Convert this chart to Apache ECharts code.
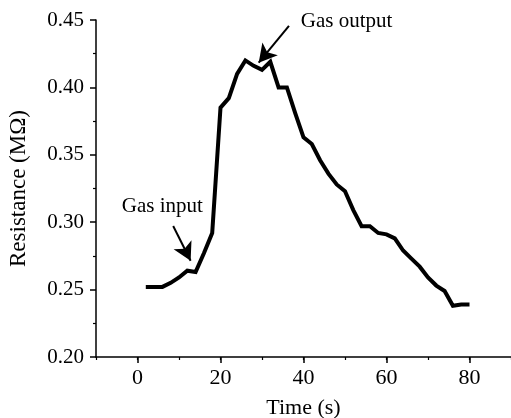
<!DOCTYPE html>
<html><head><meta charset="utf-8">
<script src="https://cdn.jsdelivr.net/npm/echarts@6/dist/echarts.min.js"></script>
<style>html,body{margin:0;padding:0;background:#fff}#c{width:511px;height:418px}</style>
</head><body><div id="c"></div>
<script>
const timeS = [2,4,6,8,10,12,14,16,18,20,22,24,26,28,30,32,34,36,38,40,42,44,46,48,50,52,54,56,58,60,62,64,66,68,70,72,74,76,78,80];
const resistance = [0.252,0.252,0.252,0.255,0.259,0.264,0.263,0.277,0.292,0.385,0.392,0.410,0.420,0.416,0.413,0.419,0.400,0.400,0.381,0.363,0.358,0.346,0.336,0.328,0.323,0.309,0.297,0.297,0.292,0.291,0.288,0.279,0.273,0.267,0.259,0.253,0.249,0.238,0.239,0.239];
const xTicks = [0,20,40,60,80];
const annotations = ['Gas input','Gas output'];
const annotationPos = [[6,0.3115],[50.4,0.4487]];
const arrowTail = [[8.6,0.2972],[36.5,0.4456]];
const arrowTip = [[12.8,0.2714],[29.2,0.4183]];

const font = 'Liberation Serif';
const chart = echarts.init(document.getElementById('c'));
chart.setOption({
  backgroundColor:'#fff',
  animation:false,
  grid:{left:96,top:20,right:0,bottom:61,outerBoundsMode:'none',containLabel:false},
  xAxis:[{
    type:'value',min:-10,max:90,
    name:'Time (s)',nameLocation:'middle',nameGap:40,
    nameTextStyle:{fontFamily:font,fontSize:22,color:'#000'},
    axisLine:{onZero:false,lineStyle:{color:'#000',width:1.5}},
    axisTick:{show:true,customValues:xTicks,length:6,lineStyle:{color:'#000',width:1.5}},
    axisLabel:{customValues:xTicks,fontFamily:font,fontSize:22,color:'#000',margin:10},
    splitLine:{show:false}
  },{
    type:'value',min:-10,max:90,interval:10,position:'bottom',
    axisLine:{show:false,onZero:false},
    axisTick:{show:true,length:3,lineStyle:{color:'#000',width:1.2}},
    axisLabel:{show:false},splitLine:{show:false}
  }],
  yAxis:{
    type:'value',min:0.2,max:0.45,interval:0.05,
    name:'Resistance (M\u03A9)',nameLocation:'middle',nameGap:66,
    nameTextStyle:{fontFamily:font,fontSize:23,color:'#000'},
    axisLine:{show:true,onZero:false,lineStyle:{color:'#000',width:1.5}},
    axisTick:{show:true,length:6,lineStyle:{color:'#000',width:1.5}},
    minorTick:{show:true,splitNumber:2,length:3,lineStyle:{color:'#000',width:1.2}},
    axisLabel:{fontFamily:font,fontSize:21,color:'#000',margin:12,formatter:v=>v.toFixed(2)},
    splitLine:{show:false}
  },
  series:[{
    type:'line',
    data:timeS.map((t,i)=>[t,resistance[i]]),
    showSymbol:false,symbol:'none',
    lineStyle:{color:'#000',width:4,join:'miter'},
    markLine:{
      silent:true,
      symbol:['none','arrow'],
      symbolSize:[15,18],
      lineStyle:{color:'#000',width:2,type:'solid'},
      label:{show:false},
      data:arrowTail.map((p,i)=>[{coord:p},{coord:arrowTip[i]}])
    }
  },{
    type:'scatter',
    data:annotationPos,
    symbolSize:0,
    itemStyle:{color:'#000',opacity:1},
    silent:true,
    label:{show:true,position:'inside',formatter:p=>annotations[p.dataIndex],fontFamily:font,fontSize:21,color:'#000',textBorderWidth:0,opacity:1}
  }]
});
</script></body></html>
